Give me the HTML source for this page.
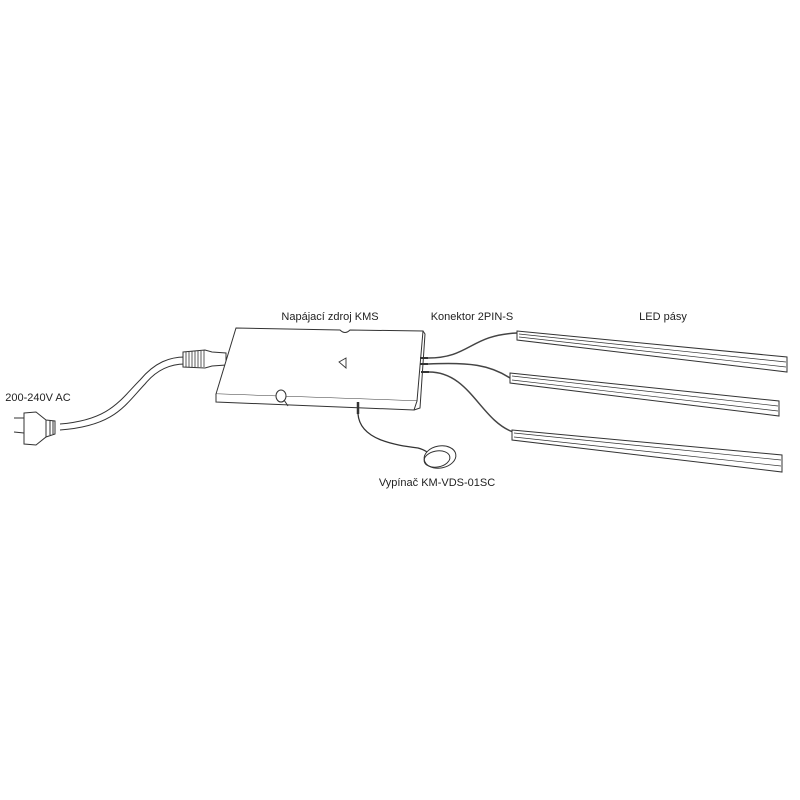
<!DOCTYPE html>
<html><head><meta charset="utf-8"><style>
html,body{margin:0;padding:0;background:#fff;width:800px;height:800px;overflow:hidden}
text{font-family:"Liberation Sans",sans-serif;font-size:11px;fill:#222;stroke:none}
</style></head><body>
<svg width="800" height="800" viewBox="0 0 800 800" xmlns="http://www.w3.org/2000/svg" fill="none" stroke="#333" stroke-width="1">
<!-- labels -->
<text x="330" y="320" text-anchor="middle">Napájací zdroj KMS</text>
<text x="472" y="320" text-anchor="middle">Konektor 2PIN-S</text>
<text x="663" y="320" text-anchor="middle">LED pásy</text>
<text x="38" y="401" text-anchor="middle">200-240V AC</text>
<text x="437" y="486" text-anchor="middle">Vypínač KM-VDS-01SC</text>

<!-- power cable -->
<path d="M60,424 C110,420 120,400 140,380 C155,362 170,357 185,357"/>
<path d="M60,430 C115,426 125,405 145,384 C158,368 172,364 185,364"/>
<!-- plug -->
<path d="M14,418 L24,418 M14,432 L24,433" />
<path d="M24,413 L36,412 L46,420 L55,421 L55,434 L46,437 L36,445 L24,444 Z" fill="#fff"/>
<path d="M46,420 L46,437 M50,420 L50,435 M53,421 L53,434"/>
<!-- strain relief -->
<path d="M183,352 L205,350 L212,352 L226,353 L226,365 L212,366 L205,368 L183,367 Z" fill="#fff"/>
<path d="M186,352v15M189,352v15M192,351v16M195,351v16M198,351v16M201,351v16M204,350v17" stroke-width="0.8"/>

<!-- box -->
<path d="M236,328 L340,330 Q345,335 350,330 L423,331 L417,401 L216,394 Z" fill="#fff"/>
<path d="M216,394 L216,402 L414,410 L417,401" fill="#fff"/>
<path d="M423,331 L425,334 L420,408 L414,410"/>
<path d="M339,362 L346,358 L346,368 Z" stroke-width="0.9"/>
<ellipse cx="281" cy="396" rx="5" ry="6" fill="#fff"/>
<path d="M284,400 L288,406"/>
<!-- connectors on right end -->
<path d="M420,358 l8,0 M420,364 l8,0 M421,372 l8,0" stroke-width="2"/>
<!-- LED cables -->
<path d="M428,358 C470,358 470,335 517,333" stroke="#444" stroke-width="1.5"/>
<path d="M428,364 C470,362 490,365 510,378" stroke="#444" stroke-width="1.5"/>
<path d="M429,372 C470,372 480,420 513,432" stroke="#444" stroke-width="1.5"/>

<!-- switch cable -->
<path d="M358,402 L358,414" stroke-width="2.5"/>
<path d="M358,414 C360,440 395,445 418,448 C425,450 428,452 430,456" stroke-width="1.3"/>
<ellipse cx="440" cy="457" rx="16" ry="11" fill="#fff" transform="rotate(-10 440 457)"/>
<ellipse cx="437" cy="459" rx="13" ry="8" transform="rotate(-10 437 459)"/>

<!-- LED bars -->
<g fill="#fff">
<path d="M517,331 L787,357 L787,372 L517,340 Z"/>
<path d="M519,334 L786,362 M519,337 L786,367" stroke-width="0.7"/>
<path d="M510,373 L779,401 L779,416 L510,383 Z"/>
<path d="M512,376 L778,406 M512,380 L778,411" stroke-width="0.7"/>
<path d="M512,430 L782,455 L782,472 L512,440 Z"/>
<path d="M514,433 L781,460 M514,437 L781,466" stroke-width="0.7"/>
</g>
</svg>
</body></html>
